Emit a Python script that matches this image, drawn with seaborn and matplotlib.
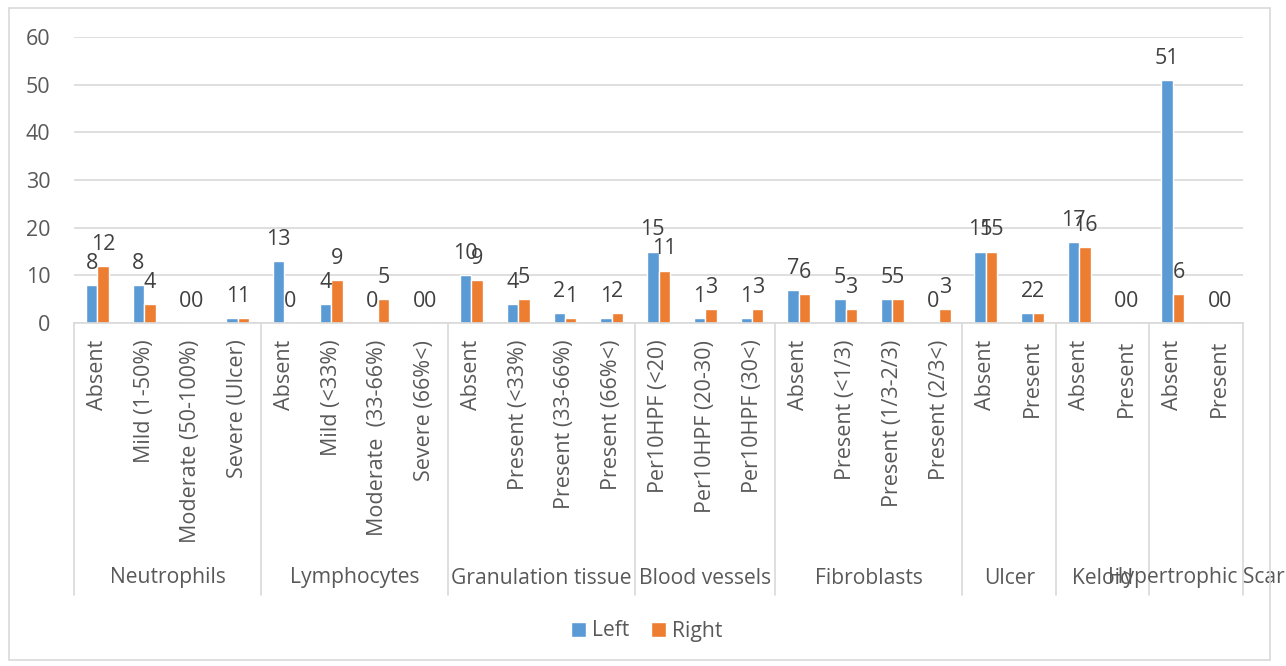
import pandas as pd
import numpy as np
import matplotlib.pyplot as plt
import matplotlib.transforms as mtransforms
from matplotlib.patches import Rectangle
import seaborn as sns

# Chart data
groups = ["Neutrophils", "Lymphocytes", "Granulation tissue", "Blood vessels",
          "Fibroblasts", "Ulcer", "Keloid", "Hypertrophic Scar"]
subcats = [
    ["Absent", "Mild (1-50%)", "Moderate (50-100%)", "Severe (Ulcer)"],
    ["Absent", "Mild (<33%)", "Moderate  (33-66%)", "Severe (66%<)"],
    ["Absent", "Present (<33%)", "Present (33-66%)", "Present (66%<)"],
    ["Per10HPF (<20)", "Per10HPF (20-30)", "Per10HPF (30<)"],
    ["Absent", "Present (<1/3)", "Present (1/3-2/3)", "Present (2/3<)"],
    ["Absent", "Present"],
    ["Absent", "Present"],
    ["Absent", "Present"],
]
left_vals = [8, 8, 0, 1,
             13, 4, 0, 0,
             10, 4, 2, 1,
             15, 1, 1,
             7, 5, 5, 0,
             15, 2,
             17, 0,
             51, 0]
right_vals = [12, 4, 0, 1,
              0, 9, 5, 0,
              9, 5, 1, 2,
              11, 3, 3,
              6, 3, 5, 3,
              15, 2,
              16, 0,
              6, 0]
sides = ["Left", "Right"]
colors = ["#5B9BD5", "#ED7D31"]

# Build long table with unique keys per sub-category
sub_labels = [s for g in subcats for s in g]
group_of = [g for g, subs in zip(groups, subcats) for _ in subs]
keys = [f"{g}|{s}" for g, s in zip(group_of, sub_labels)]
df = pd.concat([
    pd.DataFrame({"key": keys, "value": left_vals, "side": "Left"}),
    pd.DataFrame({"key": keys, "value": right_vals, "side": "Right"}),
], ignore_index=True)

sns.set_style("white")
plt.rcParams["font.family"] = ["Open Sans", "DejaVu Sans"]

W, H = 1286, 666
fig = plt.figure(figsize=(W / 100, H / 100), dpi=100)
ax = fig.add_axes([74 / W, 1 - 323 / H, (1243 - 74) / W, (323 - 37) / H])

sns.barplot(data=df, x="key", y="value", hue="side", order=keys, hue_order=sides,
            palette=colors, width=0.49, gap=0, saturation=1, errorbar=None, ax=ax)

for cont in ax.containers:
    ax.bar_label(cont, fmt="%g", padding=8, fontsize=15.5, color="#404040")

ax.set_ylim(0, 60)
ax.set_xlim(-0.5, len(keys) - 0.5)
ax.set_yticks(np.arange(0, 61, 10))
ax.set_xticks(range(len(keys)))
ax.set_xticklabels(sub_labels, rotation=90, va="top", ha="center")
ax.tick_params(axis="x", length=0, pad=12, labelsize=15.5, labelcolor="#595959")
ax.tick_params(axis="y", length=0, pad=17, labelsize=15.5, labelcolor="#595959")
ax.set_xlabel("")
ax.set_ylabel("")
ax.yaxis.grid(True, color="#D9D9D9", lw=1.2)
ax.set_axisbelow(True)
for side in ["left", "top", "right"]:
    ax.spines[side].set_visible(False)
ax.spines["bottom"].set_color("#D9D9D9")
ax.spines["bottom"].set_linewidth(1.2)

# Group separators and group labels
trans = mtransforms.blended_transform_factory(ax.transData, ax.transAxes)
bottom_frac = (323 - 595) / (323 - 37)
label_frac = (323 - 578) / (323 - 37)
pos = -0.5
ax.plot([pos, pos], [0, bottom_frac], transform=trans, color="#D9D9D9", lw=1.2, clip_on=False)
for g, subs in zip(groups, subcats):
    end = pos + len(subs)
    ax.plot([end, end], [0, bottom_frac], transform=trans, color="#D9D9D9", lw=1.2, clip_on=False)
    ax.text((pos + end) / 2, label_frac, g, transform=trans, ha="center", va="center",
            fontsize=15.2, color="#595959", clip_on=False)
    pos = end

handles, labels = ax.get_legend_handles_labels()
ax.get_legend().remove()
fig.legend(handles, labels, loc="center", bbox_to_anchor=(0.503, 1 - 631 / H), ncol=2,
           frameon=False, fontsize=15.2, labelcolor="#595959", handlelength=0.7,
           handleheight=0.7, handletextpad=0.3, columnspacing=1.0)

fig.patches.append(Rectangle((9 / W, 6 / H), (1270 - 9) / W, (660 - 8) / H,
                             transform=fig.transFigure, fill=False,
                             edgecolor="#D9D9D9", lw=1.2))

fig.savefig("out.png", dpi=100)
